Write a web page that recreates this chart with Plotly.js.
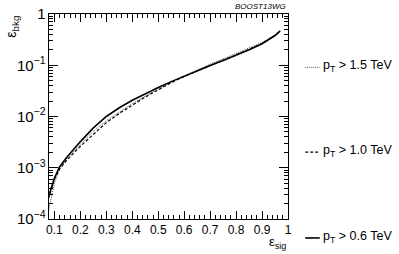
<!DOCTYPE html>
<html>
<head>
<meta charset="utf-8">
<script src="https://cdn.plot.ly/plotly-3.0.1.min.js"></script>
<style>html,body{margin:0;padding:0;background:#fff;}#chart{width:399px;height:254px;}</style>
</head>
<body>
<div id="chart"></div>
<script>
const effSig = [0.077, 0.09, 0.1, 0.12, 0.15, 0.2, 0.25, 0.3, 0.35, 0.4, 0.45, 0.5, 0.55, 0.6, 0.65, 0.7, 0.75, 0.8, 0.85, 0.9, 0.95, 0.97];
const bkgPt06 = [2.7e-4, 4.4e-4, 6.3e-4, 1.05e-3, 1.66e-3, 3.24e-3, 6.0e-3, 1.0e-2, 1.48e-2, 2.07e-2, 2.79e-2, 3.67e-2, 4.79e-2, 6.17e-2, 7.85e-2, 0.099, 0.124, 0.157, 0.200, 0.263, 0.380, 0.470];
const bkgPt10 = [2.5e-4, 4.2e-4, 6.0e-4, 9.5e-4, 1.45e-3, 2.63e-3, 4.57e-3, 7.6e-3, 1.15e-2, 1.66e-2, 2.4e-2, 3.31e-2, 4.57e-2, 6.03e-2, 7.76e-2, 0.099, 0.126, 0.158, 0.202, 0.263, 0.380, 0.470];
const bkgPt15 = [1.4e-4, 3.0e-4, 5.0e-4, 9.5e-4, 1.55e-3, 2.88e-3, 5.1e-3, 8.3e-3, 1.23e-2, 1.78e-2, 2.51e-2, 3.47e-2, 4.68e-2, 6.17e-2, 8.13e-2, 0.105, 0.133, 0.170, 0.216, 0.279, 0.389, 0.468];
const seriesNames = ["p<sub>T</sub> > 1.5 TeV", "p<sub>T</sub> > 1.0 TeV", "p<sub>T</sub> > 0.6 TeV"];

const font = "Liberation Sans, Arial, Helvetica, sans-serif";
const styles = [
  {color: "#555", width: 1, dash: "1px,1px"},
  {color: "#000", width: 1.2, dash: "3px,2px"},
  {color: "#000", width: 1.6, dash: "solid"}
];
const traces = [
  {x: effSig, y: bkgPt15, mode: "lines", name: seriesNames[0], line: styles[0]},
  {x: effSig, y: bkgPt10, mode: "lines", name: seriesNames[1], line: styles[1]},
  {x: effSig, y: bkgPt06, mode: "lines", name: seriesNames[2], line: styles[2]}
];

const shapes = [];
const annotations = [];
const legPy = [67, 152, 238];
for (let i = 0; i < 3; i++) {
  const yfrac = 1 - (legPy[i] - 13.5) / (219 - 13.5);
  shapes.push({type: "line", xref: "paper", yref: "paper", x0: 1.072, x1: 1.133, y0: yfrac, y1: yfrac,
    line: styles[i]});
  annotations.push({xref: "paper", yref: "paper", x: 1.14, y: yfrac + 0.005, xanchor: "left", yanchor: "middle",
    text: seriesNames[i], showarrow: false, font: {family: font, size: 12.5, color: "#000"}});
}
annotations.push({xref: "paper", yref: "paper", x: 1.0, y: 1.005, xanchor: "right", yanchor: "bottom",
  text: "<i>BOOST13WG</i>", showarrow: false, font: {family: font, size: 8, color: "#000"}});
annotations.push({xref: "paper", yref: "paper", x: 1.0, y: -0.165, xanchor: "right", yanchor: "bottom",
  text: "ε<sub>sig</sub>", showarrow: false, font: {family: font, size: 13, color: "#000"}});
annotations.push({xref: "paper", yref: "paper", x: -0.11, y: 1.0, xanchor: "right", yanchor: "top", textangle: -90,
  text: "ε<sub>bkg</sub>", showarrow: false, font: {family: font, size: 14, color: "#000"}});

const layout = {
  width: 399, height: 254,
  margin: {l: 48.5, r: 111, t: 13.5, b: 35, pad: 0},
  paper_bgcolor: "#fff", plot_bgcolor: "#fff",
  showlegend: false,
  font: {family: font, size: 12, color: "#000"},
  xaxis: {range: [0.079, 1], tick0: 0.1, dtick: 0.1, ticks: "inside", ticklen: 8, tickwidth: 1, tickcolor: "#000",
    minor: {ticks: "inside", ticklen: 4, dtick: 0.02, tick0: 0, tickcolor: "#000"},
    showline: true, linecolor: "#000", linewidth: 1, mirror: "allticks", showgrid: false, zeroline: false,
    tickfont: {family: font, size: 12, color: "#000"}},
  yaxis: {type: "log", range: [-4, 0], dtick: 1, exponentformat: "power", ticks: "inside", ticklen: 9, tickwidth: 1, tickcolor: "#000",
    minor: {ticks: "inside", ticklen: 4, dtick: "D1", tickcolor: "#000"},
    showline: true, linecolor: "#000", linewidth: 1, mirror: "allticks", showgrid: false, zeroline: false,
    tickfont: {family: font, size: 12, color: "#000"}},
  shapes: shapes,
  annotations: annotations
};
Plotly.newPlot("chart", traces, layout, {staticPlot: true, displayModeBar: false});
</script>
</body>
</html>
